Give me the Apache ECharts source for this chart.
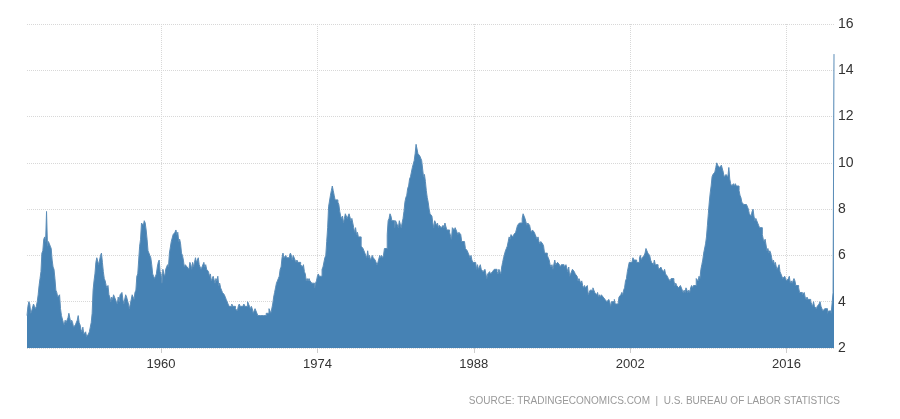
<!DOCTYPE html>
<html>
<head>
<meta charset="utf-8">
<script src="https://cdn.jsdelivr.net/npm/echarts@6/dist/echarts.min.js"></script>
<style>
html,body{margin:0;padding:0;background:#fff;}
#c{width:900px;height:419px;}
</style>
</head>
<body>
<div id="c"></div>
<script>
// US unemployment rate, monthly, Jan 1948 - Apr 2020
const startYear = 1948;
const rate1948_1949 = [
3.4,3.8,4.0,3.9,3.5,3.6,3.6,3.9,3.8,3.7,3.8,4.0,
4.3,4.7,5.0,5.3,6.1,6.2,6.7,6.8,6.6,7.9,6.4,6.6];
const rate1950s = [
6.5,6.4,6.3,5.8,5.5,5.4,5.0,4.5,4.4,4.2,4.2,4.3,
3.7,3.4,3.4,3.1,3.0,3.2,3.1,3.1,3.3,3.5,3.5,3.1,
3.2,3.1,2.9,2.9,3.0,3.0,3.2,3.4,3.1,3.0,2.8,2.7,
2.9,2.6,2.6,2.7,2.5,2.5,2.6,2.7,2.9,3.1,3.5,4.5,
4.9,5.2,5.7,5.9,5.9,5.6,5.8,6.0,6.1,5.7,5.3,5.0,
4.9,4.7,4.6,4.7,4.3,4.2,4.0,4.2,4.1,4.3,4.2,4.2,
4.0,3.9,4.2,4.0,4.3,4.3,4.4,4.1,3.9,3.9,4.3,4.2,
4.2,3.9,3.7,3.9,4.1,4.3,4.2,4.1,4.4,4.5,5.1,5.2,
5.8,6.4,6.7,7.4,7.4,7.3,7.5,7.4,7.1,6.7,6.2,6.2,
6.0,5.9,5.6,5.2,5.1,5.0,5.1,5.2,5.5,5.7,5.8,5.3];
const rate1960s = [
5.2,4.8,5.4,5.2,5.1,5.4,5.5,5.6,5.5,6.1,6.1,6.6,
6.6,6.9,6.9,7.0,7.1,6.9,7.0,6.6,6.7,6.5,6.1,6.0,
5.8,5.5,5.6,5.6,5.5,5.5,5.4,5.7,5.6,5.4,5.7,5.5,
5.7,5.9,5.7,5.7,5.9,5.6,5.6,5.4,5.5,5.5,5.7,5.5,
5.6,5.4,5.4,5.3,5.1,5.2,4.9,5.0,5.1,5.1,4.8,5.0,
4.9,5.1,4.7,4.8,4.6,4.6,4.4,4.4,4.3,4.2,4.1,4.0,
4.0,3.8,3.8,3.8,3.9,3.8,3.8,3.8,3.7,3.7,3.6,3.8,
3.9,3.8,3.8,3.8,3.8,3.9,3.8,3.8,3.8,4.0,3.9,3.8,
3.7,3.8,3.7,3.5,3.5,3.7,3.7,3.5,3.4,3.4,3.4,3.4,
3.4,3.4,3.4,3.4,3.4,3.5,3.5,3.5,3.7,3.7,3.5,3.5];
const rate1970s = [
3.9,4.2,4.4,4.6,4.8,4.9,5.0,5.1,5.4,5.5,5.9,6.1,
5.9,5.9,6.0,5.9,5.9,5.9,6.0,6.1,6.0,5.8,6.0,6.0,
5.8,5.7,5.8,5.7,5.7,5.7,5.6,5.6,5.5,5.6,5.3,5.2,
4.9,5.0,4.9,5.0,4.9,4.9,4.8,4.8,4.8,4.6,4.8,4.9,
5.1,5.2,5.1,5.1,5.1,5.4,5.5,5.5,5.9,6.0,6.6,7.2,
8.1,8.1,8.6,8.8,9.0,8.8,8.6,8.4,8.4,8.4,8.3,8.2,
7.9,7.7,7.6,7.7,7.4,7.6,7.8,7.8,7.6,7.7,7.8,7.8,
7.5,7.6,7.4,7.2,7.0,7.2,6.9,7.0,6.8,6.8,6.8,6.4,
6.4,6.3,6.3,6.1,6.0,5.9,6.2,5.9,6.0,5.8,5.9,6.0,
5.9,5.9,5.8,5.8,5.6,5.7,5.7,6.0,5.9,6.0,5.9,6.0];
const rate1980s = [
6.3,6.3,6.3,6.9,7.5,7.6,7.8,7.7,7.5,7.5,7.5,7.2,
7.5,7.4,7.4,7.2,7.5,7.5,7.2,7.4,7.6,7.9,8.3,8.5,
8.6,8.9,9.0,9.3,9.4,9.6,9.8,9.8,10.1,10.4,10.8,10.8,
10.4,10.4,10.3,10.2,10.1,10.1,9.4,9.5,9.2,8.8,8.5,8.3,
8.0,7.8,7.8,7.7,7.4,7.2,7.5,7.5,7.3,7.4,7.2,7.3,
7.3,7.2,7.2,7.3,7.2,7.4,7.4,7.1,7.1,7.1,7.0,7.0,
6.7,7.2,7.2,7.1,7.2,7.2,7.0,6.9,7.0,7.0,6.9,6.6,
6.6,6.6,6.6,6.3,6.3,6.2,6.1,6.0,5.9,6.0,5.8,5.7,
5.7,5.7,5.7,5.4,5.6,5.4,5.4,5.6,5.4,5.4,5.3,5.3,
5.4,5.2,5.0,5.2,5.2,5.3,5.2,5.2,5.3,5.3,5.4,5.4];
const rate1990s = [
5.4,5.3,5.2,5.4,5.4,5.2,5.5,5.7,5.9,5.9,6.2,6.3,
6.4,6.6,6.8,6.7,6.9,6.9,6.8,6.9,6.9,7.0,7.0,7.3,
7.3,7.4,7.4,7.4,7.6,7.8,7.7,7.6,7.6,7.3,7.4,7.4,
7.3,7.1,7.0,7.1,7.1,7.0,6.9,6.8,6.7,6.8,6.6,6.5,
6.6,6.6,6.5,6.4,6.1,6.1,6.1,6.0,5.9,5.8,5.6,5.5,
5.6,5.4,5.4,5.8,5.6,5.6,5.7,5.7,5.6,5.5,5.6,5.6,
5.6,5.5,5.5,5.6,5.6,5.3,5.5,5.1,5.2,5.2,5.4,5.4,
5.3,5.2,5.2,5.1,4.9,5.0,4.9,4.8,4.9,4.7,4.6,4.7,
4.6,4.6,4.7,4.3,4.4,4.5,4.5,4.5,4.6,4.5,4.4,4.4,
4.3,4.4,4.2,4.3,4.2,4.3,4.3,4.2,4.2,4.1,4.1,4.0];
const rate2000s = [
4.0,4.1,4.0,3.8,4.0,4.0,4.0,4.1,3.9,3.9,3.9,3.9,
4.2,4.2,4.3,4.4,4.3,4.5,4.6,4.9,5.0,5.3,5.5,5.7,
5.7,5.7,5.7,5.9,5.8,5.8,5.8,5.7,5.7,5.7,5.9,6.0,
5.8,5.9,5.9,6.0,6.1,6.3,6.2,6.1,6.1,6.0,5.8,5.7,
5.7,5.6,5.8,5.6,5.6,5.6,5.5,5.4,5.4,5.5,5.4,5.4,
5.3,5.4,5.2,5.2,5.1,5.0,5.0,4.9,5.0,5.0,5.0,4.9,
4.7,4.8,4.7,4.7,4.6,4.6,4.7,4.7,4.5,4.4,4.5,4.4,
4.6,4.5,4.4,4.5,4.4,4.6,4.7,4.6,4.7,4.7,4.7,5.0,
5.0,4.9,5.1,5.0,5.4,5.6,5.8,6.1,6.1,6.5,6.8,7.3,
7.8,8.3,8.7,9.0,9.4,9.5,9.5,9.6,9.8,10.0,9.9,9.9];
const rate2010s = [
9.8,9.8,9.9,9.9,9.6,9.4,9.4,9.5,9.5,9.4,9.8,9.3,
9.1,9.0,9.0,9.1,9.0,9.1,9.0,9.0,9.0,8.8,8.6,8.5,
8.3,8.3,8.2,8.2,8.2,8.2,8.2,8.0,7.8,7.8,7.7,7.9,
8.0,7.7,7.5,7.6,7.5,7.5,7.3,7.2,7.2,7.2,6.9,6.7,
6.6,6.7,6.7,6.2,6.3,6.1,6.2,6.1,5.9,5.7,5.8,5.6,
5.7,5.5,5.4,5.4,5.6,5.3,5.2,5.1,5.0,5.0,5.1,5.0,
4.9,4.9,5.0,5.1,4.8,4.9,4.8,4.9,5.0,4.9,4.7,4.7,
4.7,4.6,4.4,4.4,4.4,4.3,4.3,4.4,4.2,4.1,4.2,4.1,
4.1,4.1,4.0,4.0,3.8,4.0,3.8,3.8,3.7,3.8,3.8,3.9,
4.0,3.8,3.8,3.6,3.6,3.7,3.7,3.7,3.5,3.6,3.6,3.6];
const rate2020 = [3.5,3.5,4.4,14.7];

const xTickYears = [1960, 1974, 1988, 2002, 2016];
const yTicks = [2, 4, 6, 8, 10, 12, 14, 16];
const sourceText = 'SOURCE: TRADINGECONOMICS.COM  |  U.S. BUREAU OF LABOR STATISTICS';

const values = [].concat(rate1948_1949, rate1950s, rate1960s, rate1970s, rate1980s, rate1990s, rate2000s, rate2010s, rate2020);
const months = values.map((v, i) => {
  const y = startYear + Math.floor(i / 12);
  const m = (i % 12) + 1;
  return y + '-' + (m < 10 ? '0' + m : m);
});
function isTick(idx) {
  const v = months[idx];
  if (!v) return false;
  return v.slice(5) === '01' && xTickYears.indexOf(+v.slice(0, 4)) >= 0;
}

const chart = echarts.init(document.getElementById('c'), null, {renderer: 'canvas'});
const FONT = '"Liberation Sans", Arial, sans-serif';
chart.setOption({
  animation: false,
  backgroundColor: '#ffffff',
  grid: {left: 27, right: 66, top: 24, bottom: 71, containLabel: false},
  xAxis: {
    type: 'category',
    data: months,
    boundaryGap: false,
    axisLine: {show: false},
    axisTick: {show: true, length: 5, interval: (i) => isTick(i), lineStyle: {color: '#cccccc'}},
    axisLabel: {
      interval: (i) => isTick(i),
      formatter: (v) => v.slice(0, 4),
      color: '#333333', fontSize: 13, fontFamily: FONT, margin: 10
    },
    splitLine: {show: true, interval: (i) => isTick(i), lineStyle: {color: '#d8d8d8', type: 'dotted', width: 1}}
  },
  yAxis: {
    type: 'value',
    position: 'right',
    min: 2, max: 16, interval: 2,
    axisLine: {show: false},
    axisTick: {show: false},
    axisLabel: {color: '#333333', fontSize: 14, fontFamily: FONT, margin: 4,
      formatter: (v) => yTicks.indexOf(v) >= 0 ? String(v) : ''},
    splitLine: {lineStyle: {color: '#d8d8d8', type: 'dotted', width: 1}}
  },
  series: [{
    type: 'line',
    data: values,
    step: 'end',
    symbol: 'none',
    lineStyle: {color: '#5b8db8', width: 1},
    areaStyle: {color: '#4682b4', opacity: 1, origin: 'start'},
    itemStyle: {color: '#4682b4'}
  }],
  graphic: [{
    type: 'text',
    right: 60,
    top: 396,
    style: {text: sourceText, fill: '#999999', fontSize: 10, fontFamily: FONT}
  }]
});
</script>
</body>
</html>
